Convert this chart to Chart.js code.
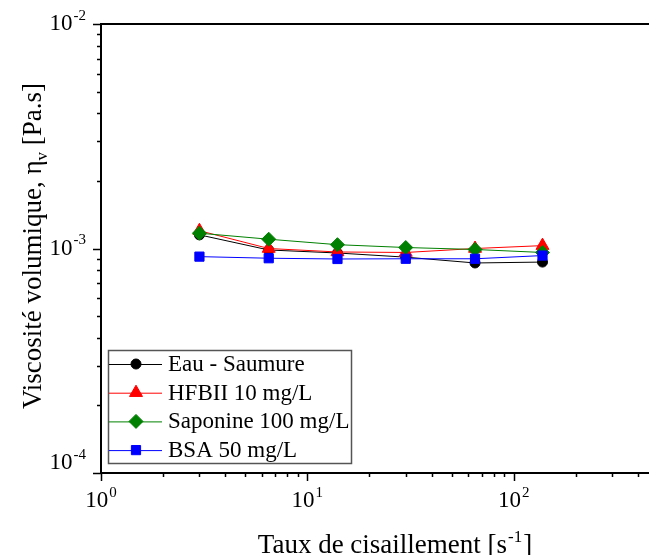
<!DOCTYPE html>
<html>
<head>
<meta charset="utf-8">
<script src="https://cdn.jsdelivr.net/npm/chart.js@4/dist/chart.umd.min.js"></script>
<style>
    body { margin: 0; background: #fff; }
    canvas { display: block; }
</style>
</head>
<body>
<canvas id="viscChart" width="649" height="555"></canvas>
<script>
// Data
const shearRates = [3, 6.5, 14, 30, 65, 138];          // s^-1
const eauSaumure = [1.15e-3, 0.985e-3, 0.955e-3, 0.915e-3, 0.862e-3, 0.870e-3];
const hfbii      = [1.20e-3, 1.00e-3, 0.965e-3, 0.960e-3, 1.00e-3, 1.03e-3];
const saponine   = [1.17e-3, 1.10e-3, 1.04e-3, 1.01e-3, 0.99e-3, 0.96e-3];
const bsa        = [0.92e-3, 0.905e-3, 0.898e-3, 0.90e-3, 0.90e-3, 0.93e-3];

const seriesLabels = ['Eau - Saumure', 'HFBII 10 mg/L', 'Saponine 100 mg/L', 'BSA 50 mg/L'];
const seriesColors = ['#000000', '#ff0000', '#008000', '#0000ff'];
const seriesStyles = ['circle', 'triangle', 'rectRot', 'rect'];
const seriesRadius = [5, 7.5, 7, 6.5];
const seriesValues = [eauSaumure, hfbii, saponine, bsa];

const xTickExps = [0, 1, 2];
const yTickExps = [-4, -3, -2];
const xTitle = 'Taux de cisaillement [s';
const yTitle = 'Viscosité volumique, η';

const FONT = "'Liberation Serif', 'Times New Roman', serif";
const BIG = '23px ' + FONT;
const SUPF = '15px ' + FONT;

// draws "10" with a raised exponent; align 'center' or 'right'
function drawPower(ctx, e, x, y, align) {
    ctx.font = BIG;
    const wb = ctx.measureText('10').width;
    ctx.font = SUPF;
    const exp = String(e);
    const ws = ctx.measureText(exp).width;
    const left = align === 'center' ? x - (wb + ws + 1) / 2 : x - (wb + ws + 1);
    ctx.textBaseline = 'middle';
    ctx.textAlign = 'left';
    ctx.font = BIG;
    ctx.fillText('10', left, y);
    ctx.font = SUPF;
    ctx.fillText(exp, left + wb + 1, y - 8);
}

// Ticks (major 8px, minor 4px, outward), tick labels and top frame line
const frameTicks = {
    id: 'frameTicks',
    afterDraw(chart) {
        const { ctx, chartArea, scales } = chart;
        ctx.save();
        ctx.strokeStyle = '#000';
        ctx.lineWidth = 1.5;
        ctx.beginPath();
        ['x', 'y'].forEach(id => {
            const s = scales[id];
            const lo = Math.floor(Math.log10(s.min));
            const hi = Math.ceil(Math.log10(s.max));
            for (let e = lo; e <= hi; e++) {
                for (let k = 1; k <= 9; k++) {
                    const v = k * Math.pow(10, e);
                    if (v < s.min * 0.999 || v > s.max * 1.001) continue;
                    const len = k === 1 ? 8 : 4;
                    const p = Math.round(s.getPixelForValue(v)) + 0.5;
                    if (id === 'x') {
                        ctx.moveTo(p, chartArea.bottom);
                        ctx.lineTo(p, chartArea.bottom + len);
                    } else {
                        ctx.moveTo(chartArea.left, p);
                        ctx.lineTo(chartArea.left - len, p);
                    }
                }
            }
        });
        ctx.stroke();
        ctx.lineWidth = 2;
        ctx.beginPath();
        ctx.moveTo(chartArea.left - 1, chartArea.top);
        ctx.lineTo(chartArea.right, chartArea.top);
        ctx.stroke();

        ctx.fillStyle = '#000';
        xTickExps.forEach(e => {
            drawPower(ctx, e, scales.x.getPixelForValue(Math.pow(10, e)), chartArea.bottom + 28, 'center');
        });
        yTickExps.forEach(e => {
            let y = scales.y.getPixelForValue(Math.pow(10, e));
            if (e === -4) y -= 10;
            drawPower(ctx, e, chartArea.left - 15, y, 'right');
        });
        ctx.restore();
    }
};

// Axis titles with sub/superscripts
const axisTitles = {
    id: 'axisTitles',
    afterDraw(chart) {
        const { ctx } = chart;
        ctx.save();
        ctx.fillStyle = '#000';
        ctx.textBaseline = 'alphabetic';
        ctx.textAlign = 'left';

        const big = '27px ' + FONT, small = '17px ' + FONT;
        ctx.font = big;
        const w1 = ctx.measureText(xTitle).width;
        const w3 = ctx.measureText(']').width;
        ctx.font = small;
        const w2 = ctx.measureText('-1').width;
        let x = 394 - (w1 + w2 + w3) / 2;
        const base = 553;
        ctx.font = big;
        ctx.fillText(xTitle, x, base);
        ctx.font = small;
        ctx.fillText('-1', x + w1 + 1, base - 11);
        ctx.font = big;
        ctx.fillText(']', x + w1 + w2 + 2, base);

        // y title (rotated)
        ctx.translate(41, 246);
        ctx.rotate(-Math.PI / 2);
        ctx.font = big;
        const a = ctx.measureText(yTitle).width;
        const c = ctx.measureText(' [Pa.s]').width;
        ctx.font = small;
        const b = ctx.measureText('v').width;
        x = -(a + b + c) / 2;
        ctx.font = big;
        ctx.fillText(yTitle, x, 0);
        ctx.font = small;
        ctx.fillText('v', x + a, 6);
        ctx.font = big;
        ctx.fillText(' [Pa.s]', x + a + b, 0);
        ctx.restore();
    }
};

// Legend box: line + marker like the original
const boxLegend = {
    id: 'boxLegend',
    afterDraw(chart) {
        const { ctx } = chart;
        ctx.save();
        ctx.fillStyle = '#fff';
        ctx.fillRect(108.5, 350.5, 243, 113);
        ctx.strokeStyle = '#555';
        ctx.lineWidth = 1.5;
        ctx.strokeRect(108.5, 350.5, 243, 113);
        chart.data.datasets.forEach((ds, i) => {
            const y = 364 + i * 28.7;
            ctx.strokeStyle = ds.borderColor;
            ctx.lineWidth = 1;
            ctx.beginPath();
            ctx.moveTo(109, y + 0.5);
            ctx.lineTo(162, y + 0.5);
            ctx.stroke();
            ctx.fillStyle = ds.backgroundColor;
            ctx.strokeStyle = ds.borderColor;
            Chart.helpers.drawPoint(ctx, {
                pointStyle: ds.pointStyle,
                radius: ds.pointRadius,
                rotation: 0,
                borderWidth: 1
            }, 136, y);
            ctx.fillStyle = '#000';
            ctx.font = '23px ' + FONT;
            ctx.textBaseline = 'middle';
            ctx.textAlign = 'left';
            ctx.fillText(ds.label, 168, y + 1);
        });
        ctx.restore();
    }
};

const datasets = seriesLabels.map((label, i) => ({
    label: label,
    data: shearRates.map((x, j) => ({ x: x, y: seriesValues[i][j] })),
    borderColor: seriesColors[i],
    backgroundColor: seriesColors[i],
    borderWidth: 1,
    pointStyle: seriesStyles[i],
    pointRadius: seriesRadius[i],
    pointBorderWidth: 1,
    showLine: true,
    order: 4 - i
}));

new Chart(document.getElementById('viscChart'), {
    type: 'scatter',
    data: { datasets: datasets },
    plugins: [frameTicks, axisTitles, boxLegend],
    options: {
        responsive: false,
        animation: false,
        devicePixelRatio: 1,
        layout: { autoPadding: false, padding: { top: 24, right: 0, left: 0, bottom: 0 } },
        plugins: {
            legend: { display: false },
            tooltip: { enabled: false }
        },
        scales: {
            x: {
                type: 'logarithmic',
                min: 1,
                max: 453,
                grid: { display: false, drawTicks: false },
                border: { display: true, color: '#000', width: 2 },
                ticks: { display: false },
                afterFit: s => { s.height = 82; }
            },
            y: {
                type: 'logarithmic',
                min: 1e-4,
                max: 1e-2,
                grid: { display: false, drawTicks: false },
                border: { display: true, color: '#000', width: 2 },
                ticks: { display: false },
                afterFit: s => { s.width = 101; }
            }
        }
    }
});
</script>
</body>
</html>
